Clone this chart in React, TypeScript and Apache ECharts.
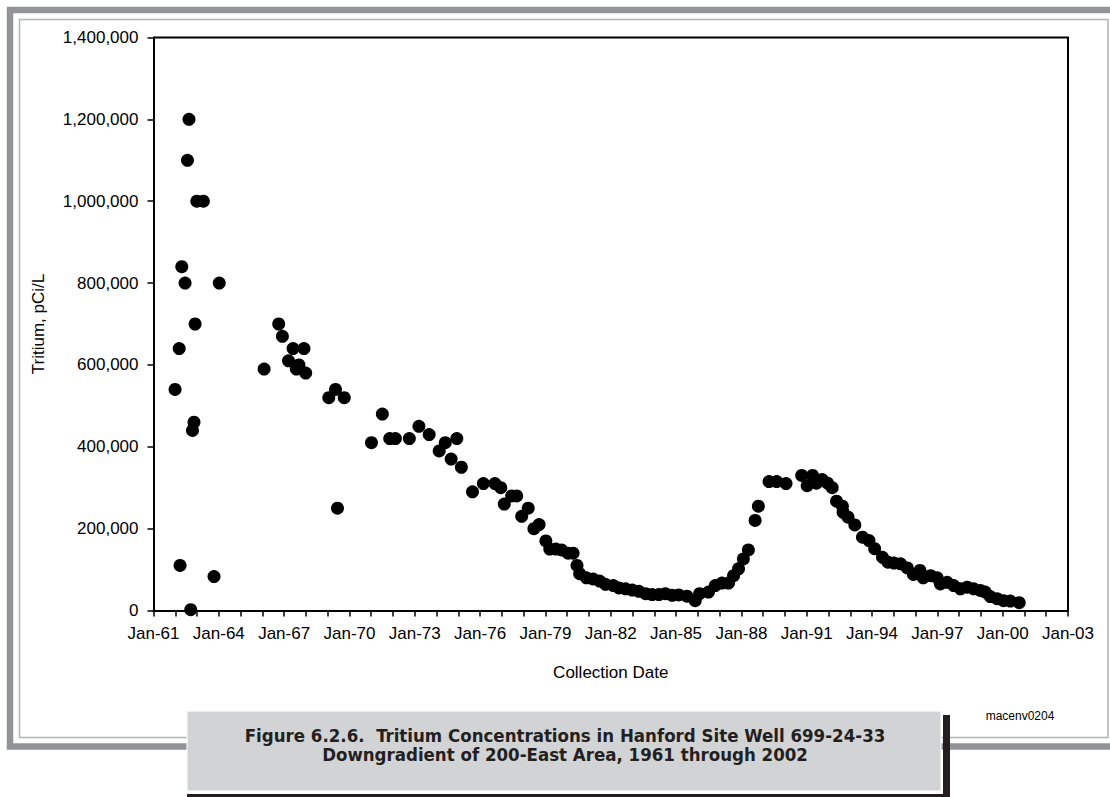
import React, { useEffect, useRef } from "react";
import * as echarts from "echarts";

// Collection date (decimal year) and tritium concentration (pCi/L)
const dates: number[] = [
  1962.63, 1962.56, 1962.99, 1963.29, 1962.30, 1962.45, 1964.02, 1962.91, 1962.18, 1961.99,
  1962.86, 1962.79, 1962.22, 1963.78, 1962.71,
  1966.08, 1966.75, 1966.92, 1967.41, 1967.91, 1967.20, 1967.68, 1967.56, 1967.99,
  1969.36, 1969.05, 1969.76, 1969.45, 1971.51, 1971.01, 1971.85, 1972.11, 1972.75,
  1973.19, 1973.66, 1974.40, 1974.93, 1974.12, 1974.67, 1975.14, 1975.65, 1976.15, 1976.68,
  1976.95, 1977.11, 1977.45, 1977.68, 1977.91, 1978.21, 1978.47, 1978.71, 1979.02, 1979.20,
  1979.48, 1979.74, 1980.04, 1980.27, 1980.45, 1980.57, 1980.88, 1981.18, 1981.49, 1981.76,
  1982.12, 1982.38, 1982.68, 1982.99, 1983.29, 1983.60, 1983.90, 1984.21, 1984.51, 1984.82,
  1985.12, 1985.50, 1985.88, 1986.08, 1986.49, 1986.80, 1987.11, 1987.41, 1987.64, 1987.87,
  1988.09, 1988.32, 1988.63, 1988.78, 1989.27, 1989.62, 1990.05, 1990.77, 1991.02, 1991.27,
  1991.45, 1991.71, 1991.96, 1992.17, 1992.37, 1992.64, 1992.67, 1992.90, 1993.21,
  1993.56, 1993.86, 1994.12, 1994.48, 1994.73, 1995.01, 1995.31, 1995.62, 1995.90, 1996.20,
  1996.35, 1996.69, 1996.99, 1997.14, 1997.45, 1997.75, 1998.06, 1998.37, 1998.67, 1998.97,
  1999.20, 1999.43, 1999.74, 2000.04, 2000.35, 2000.76,
];

const tritium: number[] = [
  1200000, 1100000, 1000000, 1000000, 840000, 800000, 800000, 700000, 640000, 540000,
  460000, 440000, 110000, 83000, 2000,
  590000, 700000, 670000, 640000, 640000, 610000, 600000, 590000, 580000,
  540000, 520000, 520000, 250000, 480000, 410000, 420000, 420000, 420000,
  450000, 430000, 410000, 420000, 390000, 370000, 350000, 290000, 310000, 310000,
  300000, 260000, 280000, 280000, 230000, 250000, 200000, 210000, 170000, 150000,
  150000, 148000, 140000, 140000, 110000, 90000, 80000, 77000, 72000, 64000,
  61000, 55000, 53000, 50000, 47000, 41000, 39000, 39000, 41000, 37000,
  38000, 35000, 24000, 41000, 45000, 61000, 67000, 67000, 85000, 102000,
  126000, 148000, 220000, 255000, 315000, 315000, 310000, 330000, 305000, 330000,
  311000, 320000, 311000, 300000, 267000, 255000, 240000, 228000, 209000,
  179000, 171000, 151000, 130000, 118000, 116000, 114000, 104000, 88000, 98000,
  80000, 85000, 80000, 65000, 69000, 61000, 53000, 57000, 53000, 49000,
  45000, 34000, 29000, 24000, 23000, 19000,
];

const xMin = 1961;
const xMax = 2003;
const yMax = 1400000;
const yStep = 200000;

const yTitle = "Tritium, pCi/L";
const xTitle = "Collection Date";
const captionLine1 = "Figure 6.2.6.  Tritium Concentrations in Hanford Site Well 699-24-33";
const captionLine2 = "Downgradient of 200-East Area, 1961 through 2002";
const codeLabel = "macenv0204";

const AXIS_FONT = "'Liberation Sans', Arial, sans-serif";
const CAPTION_FONT = "'DejaVu Sans Condensed', 'Liberation Sans Narrow', sans-serif";

export default function App() {
  const ref = useRef<HTMLDivElement>(null);

  useEffect(() => {
    if (!ref.current) return;
    const chart = echarts.init(ref.current, null, { renderer: "svg" });
    const points = dates.map((d, i) => [d, tritium[i]]);
    chart.setOption({
      animation: false,
      backgroundColor: "#ffffff",
      grid: { left: 153.5, top: 37.5, right: 42, bottom: 186.5, containLabel: false },
      xAxis: {
        type: "value",
        min: xMin,
        max: xMax,
        interval: 1,
        name: xTitle,
        nameLocation: "middle",
        nameGap: 53,
        nameTextStyle: { fontFamily: AXIS_FONT, fontSize: 17, color: "#000" },
        axisLine: { show: true, onZero: false, lineStyle: { color: "#000", width: 2 } },
        axisTick: { show: true, inside: false, length: 6, lineStyle: { color: "#000", width: 1.5 } },
        splitLine: { show: false },
        axisLabel: {
          margin: 14,
          fontFamily: AXIS_FONT,
          fontSize: 17,
          color: "#000",
          showMinLabel: true,
          showMaxLabel: true,
          formatter: (v: number) => {
            const y = Math.round(v);
            return (y - xMin) % 3 === 0 ? "Jan-" + String(y).slice(2) : "";
          },
        },
      },
      yAxis: {
        type: "value",
        min: 0,
        max: yMax,
        interval: yStep,
        name: yTitle,
        nameLocation: "middle",
        nameRotate: 90,
        nameGap: 107,
        nameTextStyle: { fontFamily: AXIS_FONT, fontSize: 17, color: "#000" },
        axisLine: { show: true, lineStyle: { color: "#000", width: 2 } },
        axisTick: { show: true, inside: false, length: 6, lineStyle: { color: "#000", width: 1.5 } },
        splitLine: { show: false },
        axisLabel: {
          margin: 15,
          fontFamily: AXIS_FONT,
          fontSize: 17,
          color: "#000",
          formatter: (v: number) => v.toLocaleString("en-US"),
        },
      },
      graphic: [
        // outer thick gray frame
        {
          type: "rect",
          silent: true,
          z: -10,
          shape: { x: 10, y: 10, width: 1106, height: 736.5 },
          style: { fill: "none", stroke: "#929497", lineWidth: 6.5 },
        },
        // inner thin frame
        {
          type: "rect",
          silent: true,
          z: -10,
          shape: { x: 19.5, y: 19.5, width: 1088.5, height: 718 },
          style: { fill: "none", stroke: "#b1b3b5", lineWidth: 1.5 },
        },
        // plot top and right borders
        {
          type: "polyline",
          silent: true,
          shape: { points: [[153.5, 37.5], [1068, 37.5], [1068, 610.5]] },
          style: { fill: "none", stroke: "#000", lineWidth: 2 },
        },
        {
          type: "text",
          silent: true,
          style: {
            x: 1020,
            y: 716,
            text: codeLabel,
            fontFamily: AXIS_FONT,
            fontSize: 12,
            fill: "#000",
            align: "center",
            verticalAlign: "middle",
          },
        },
        // caption shadow
        {
          type: "rect",
          silent: true,
          z: 50,
          shape: { x: 943, y: 715, width: 7, height: 82 },
          style: { fill: "#231f20" },
        },
        {
          type: "rect",
          silent: true,
          z: 50,
          shape: { x: 187, y: 794, width: 763, height: 5 },
          style: { fill: "#231f20" },
        },
        // caption box
        {
          type: "rect",
          silent: true,
          z: 51,
          shape: { x: 187, y: 711, width: 754, height: 80 },
          style: { fill: "#d1d3d4", stroke: "#ffffff", lineWidth: 1 },
        },
        {
          type: "text",
          silent: true,
          z: 52,
          style: {
            x: 565,
            y: 735,
            text: captionLine1,
            fontFamily: CAPTION_FONT,
            fontWeight: "bold",
            fontSize: 18.5,
            fill: "#231f20",
            align: "center",
            verticalAlign: "middle",
          },
        },
        {
          type: "text",
          silent: true,
          z: 52,
          style: {
            x: 565,
            y: 754,
            text: captionLine2,
            fontFamily: CAPTION_FONT,
            fontWeight: "bold",
            fontSize: 18.5,
            fill: "#231f20",
            align: "center",
            verticalAlign: "middle",
          },
        },
      ],
      series: [
        {
          type: "scatter",
          data: points,
          symbol: "circle",
          symbolSize: 13,
          itemStyle: { color: "#000", opacity: 1 },
        },
      ],
    });
    return () => chart.dispose();
  }, []);

  return (
    <div
      ref={ref}
      style={{ position: "absolute", left: 0, top: 0, width: 1110, height: 797 }}
    />
  );
}
